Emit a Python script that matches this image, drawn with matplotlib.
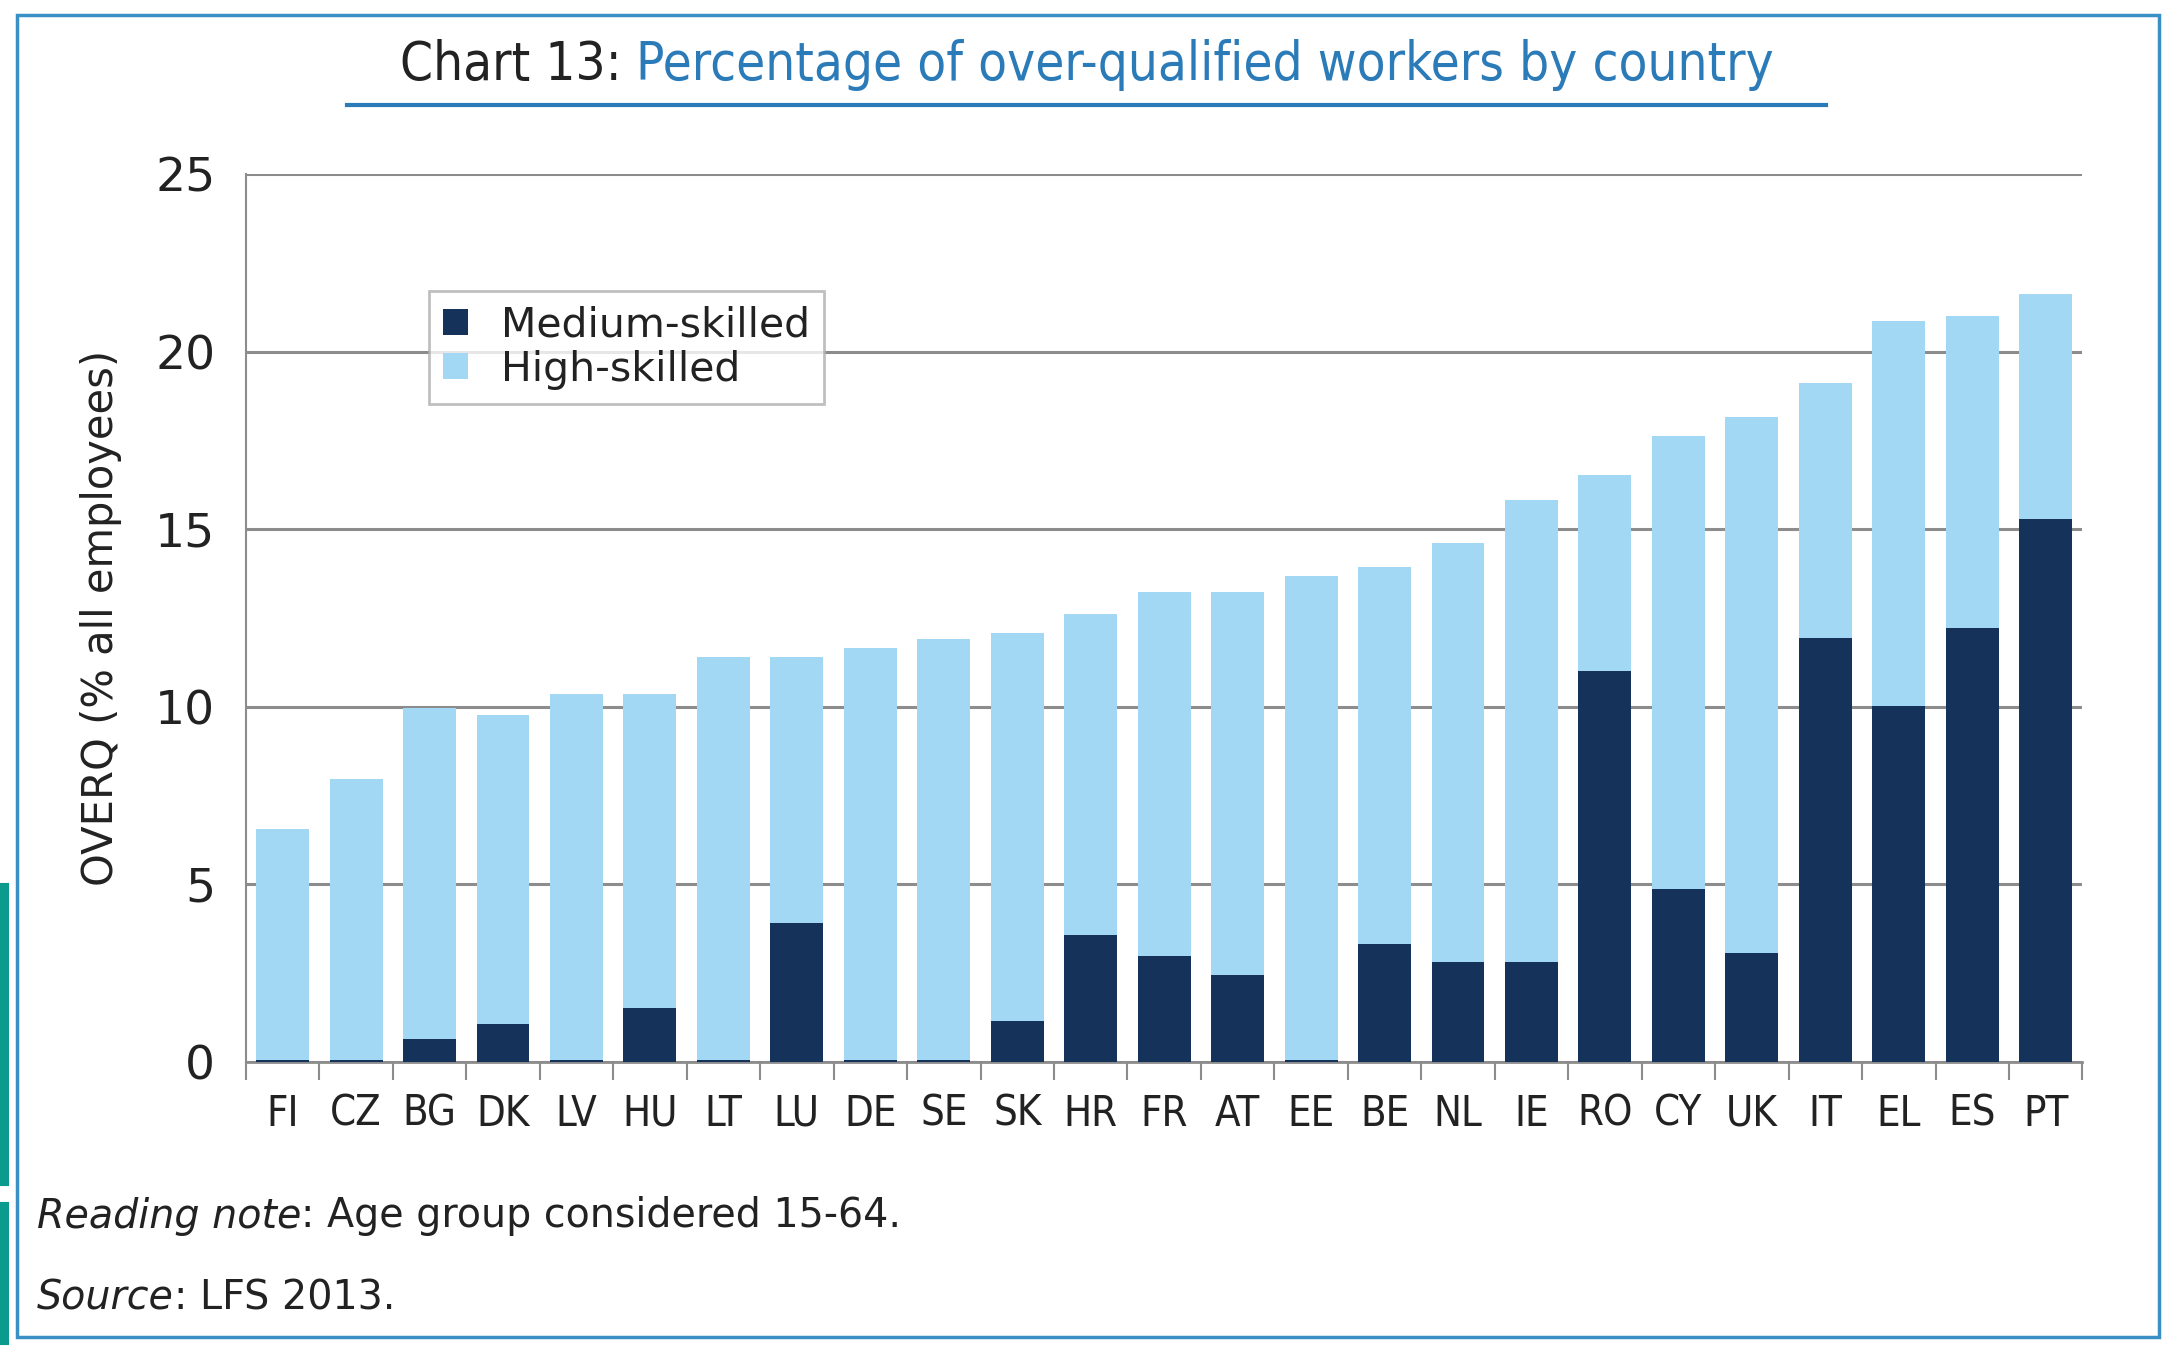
import numpy as np
import matplotlib.pyplot as plt
from matplotlib.patches import Rectangle
from matplotlib.lines import Line2D

countries = ["FI", "CZ", "BG", "DK", "LV", "HU", "LT", "LU", "DE", "SE", "SK", "HR", "FR",
             "AT", "EE", "BE", "NL", "IE", "RO", "CY", "UK", "IT", "EL", "ES", "PT"]
# medium-skilled share and total (medium + high), % of all employees
medium = [0.05, 0.05, 0.66, 1.08, 0.05, 1.52, 0.05, 3.92, 0.05, 0.05, 1.15, 3.58, 2.98,
          2.46, 0.05, 3.32, 2.81, 2.81, 11.0, 4.87, 3.07, 11.94, 10.03, 12.21, 15.30]
total = [6.57, 7.96, 9.98, 9.77, 10.37, 10.37, 11.41, 11.41, 11.66, 11.92, 12.09, 12.61, 13.24,
         13.24, 13.67, 13.93, 14.62, 15.83, 16.52, 17.63, 18.17, 19.11, 20.85, 21.0, 21.61]
high = [t - m for t, m in zip(total, medium)]

dark = "#15325a"
light = "#a3d8f5"
blue = "#2b7bb9"
frame = "#3a8fc4"

fig = plt.figure(figsize=(21.76, 13.49), dpi=100)
ax = fig.add_axes([0.113, 0.2127, 0.844, 0.6583])

x = np.arange(len(countries))
ax.bar(x, medium, width=0.72, color=dark, label="Medium-skilled", zorder=3)
ax.bar(x, high, width=0.72, bottom=medium, color=light, label="High-skilled", zorder=3)

ax.set_xlim(-0.5, len(countries) - 0.5)
ax.set_ylim(0, 25)
ax.set_yticks([0, 5, 10, 15, 20, 25])
ax.yaxis.grid(True, color="#8c8c8c", linewidth=2.2, zorder=0)
ax.tick_params(axis="y", length=0, pad=22, labelsize=34, labelcolor="#222222")
ax.set_xticks(x)
ax.set_xticklabels(countries, fontsize=30, fontstretch="condensed", color="#222222")
ax.set_xticks(np.arange(len(countries) + 1) - 0.5, minor=True)
ax.tick_params(axis="x", which="major", length=0, pad=22)
ax.tick_params(axis="x", which="minor", length=13, width=1.5, color="#8c8c8c")
for s in ["top", "right"]:
    ax.spines[s].set_visible(False)
ax.spines["left"].set_color("#8c8c8c")
ax.spines["bottom"].set_color("#8c8c8c")
ax.spines["left"].set_linewidth(1.5)
ax.spines["bottom"].set_linewidth(2)
ax.set_ylabel("OVERQ (% all employees)", fontsize=30, color="#222222", labelpad=24)

leg = ax.legend(loc="upper left", bbox_to_anchor=(0.0996, 0.868), borderaxespad=0,
                fontsize=29.5, frameon=True, fancybox=False, edgecolor="#b0b0b0",
                handlelength=0.6, handleheight=0.6, handletextpad=0.8, borderpad=0.35,
                labelspacing=0.1)
leg.get_frame().set_linewidth(2)
for t in leg.get_texts():
    t.set_color("#222222")

# outer frame and left accent
fig.add_artist(Rectangle((17 / 2176, 1 - 1337 / 1349), (2159 - 17) / 2176, (1337 - 15) / 1349,
                         transform=fig.transFigure, fill=False, edgecolor=frame, linewidth=2.5))
fig.add_artist(Line2D([0.0015, 0.0015], [1 - 1180 / 1349, 1 - 888 / 1349],
                      transform=fig.transFigure, color="#0a9a8e", linewidth=8))
fig.add_artist(Line2D([0.0015, 0.0015], [1 - 1339 / 1349, 1 - 1207 / 1349],
                      transform=fig.transFigure, color="#0a9a8e", linewidth=8))

# title in two colours
renderer = fig.canvas.get_renderer()
ty = 1 - 65 / 1349
t1 = fig.text(0, ty, "Chart 13: ", fontsize=38, fontstretch="condensed", color="#222222", va="center")
t2 = fig.text(0, ty, "Percentage of over-qualified workers by country", fontsize=38,
              fontstretch="condensed", color=blue, va="center")
w1 = t1.get_window_extent(renderer).width / fig.bbox.width
w2 = t2.get_window_extent(renderer).width / fig.bbox.width
x0 = 1087 / 2176 - (w1 + w2) / 2
t1.set_x(x0)
t2.set_x(x0 + w1)
fig.add_artist(Line2D([347 / 2176, 1826 / 2176], [1 - 105 / 1349] * 2,
                      transform=fig.transFigure, color=blue, linewidth=3))

# footnotes
def note(y, italic, rest):
    a = fig.text(37 / 2176, y, italic, fontsize=28.5, style="italic", color="#222222", va="center")
    wa = a.get_window_extent(renderer).width / fig.bbox.width
    fig.text(37 / 2176 + wa, y, rest, fontsize=28.5, color="#222222", va="center")

note(1 - 1216 / 1349, "Reading note", ": Age group considered 15-64.")
note(1 - 1298 / 1349, "Source", ": LFS 2013.")

fig.savefig("out.png", dpi=100)
